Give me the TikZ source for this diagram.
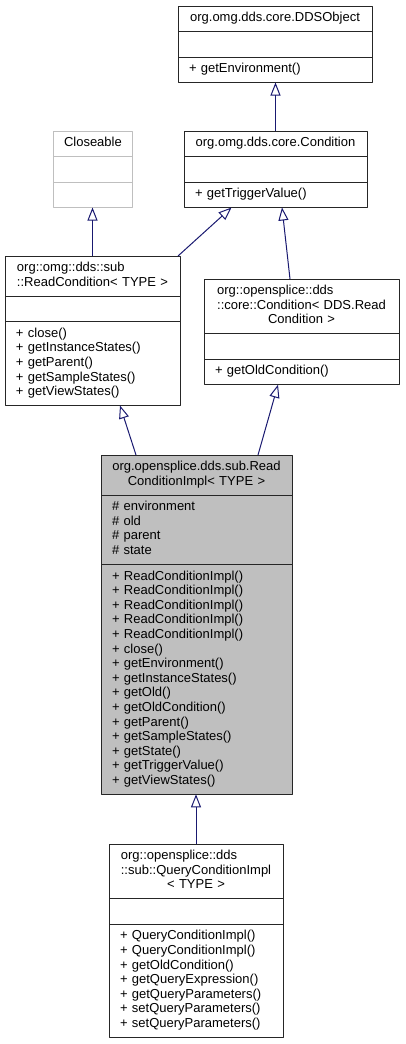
\documentclass[tikz,border=0pt]{standalone}
\usepackage{fontspec}
\setmainfont{Liberation Sans}
\usetikzlibrary{positioning,arrows.meta}
\definecolor{edgeblue}{HTML}{191970}
\definecolor{clsgray}{HTML}{BFBFBF}
\newcommand{\cmp}[1]{\begin{tabular}{@{}l@{}}#1\end{tabular}}
\newcommand{\lastc}[1]{\multicolumn{1}{@{}c@{}}{#1}}

\begin{document}
\begin{tikzpicture}[x=1pt,y=-1pt,line join=round,
  cls/.style={draw=black!85,line width=1pt,fill=white,outer sep=0pt,inner xsep=11pt,inner ysep=5.45pt,
    font=\fontsize{13}{14.6}\selectfont,minimum height=25.5pt},
  ttl/.style={cls,align=center,text width=#1},
  mem/.style={cls,align=left,text width=#1},
  cur/.style={fill=clsgray},
  ext/.style={draw=clsgray},
  inh/.style={draw=edgeblue,line width=1pt,-{Triangle[open,length=13pt,width=10pt]}}]
\useasboundingbox (0,0) rectangle (405,1044);

% DDSObject
\node[ttl=172pt,anchor=north] (ddsT) at (275,6) {\cmp{org.omg.dds.core.DDSObject}};
\node[mem=172pt,below=0pt of ddsT] (ddsA) {};
\node[mem=172pt,below=0pt of ddsA] (ddsM) {\cmp{+ getEnvironment()}};

% Closeable
\node[ttl=57pt,ext,anchor=north] (closT) at (92.5,131) {\cmp{Closeable}};
\node[mem=57pt,ext,below=0pt of closT] (closA) {};
\node[mem=57pt,ext,below=0pt of closA] (closM) {};

% Condition
\node[ttl=161pt,anchor=north] (condT) at (275.5,131) {\cmp{org.omg.dds.core.Condition}};
\node[mem=161pt,below=0pt of condT] (condA) {};
\node[mem=161pt,below=0pt of condA] (condM) {\cmp{+ getTriggerValue()}};

% ReadCondition
\node[ttl=153pt,anchor=north] (rcT) at (92.5,256) {\cmp{org::omg::dds::sub\\\lastc{::ReadCondition< TYPE >}}};
\node[mem=153pt,below=0pt of rcT] (rcA) {};
\node[mem=153pt,below=0pt of rcA] (rcM) {\cmp{+ close()\\+ getInstanceStates()\\+ getParent()\\+ getSampleStates()\\+ getViewStates()}};

% opensplice Condition
\node[ttl=173pt,anchor=north] (osT) at (301.5,279) {\cmp{org::opensplice::dds\\::core::Condition< DDS.Read\\\lastc{Condition >}}};
\node[mem=173pt,below=0pt of osT] (osA) {};
\node[mem=173pt,below=0pt of osA] (osM) {\cmp{+ getOldCondition()}};

% ReadConditionImpl
\node[ttl=169pt,cur,anchor=north] (implT) at (196.5,455) {\cmp{org.opensplice.dds.sub.Read\\\lastc{ConditionImpl< TYPE >}}};
\node[mem=169pt,cur,below=0pt of implT] (implA) {\cmp{\# environment\\\# old\\\# parent\\\# state}};
\node[mem=169pt,cur,below=0pt of implA] (implM) {\cmp{+ ReadConditionImpl()\\+ ReadConditionImpl()\\+ ReadConditionImpl()\\+ ReadConditionImpl()\\+ ReadConditionImpl()\\+ close()\\+ getEnvironment()\\+ getInstanceStates()\\+ getOld()\\+ getOldCondition()\\+ getParent()\\+ getSampleStates()\\+ getState()\\+ getTriggerValue()\\+ getViewStates()}};

% QueryConditionImpl
\node[ttl=152pt,anchor=north] (qT) at (196,844) {\cmp{org::opensplice::dds\\::sub::QueryConditionImpl\\\lastc{< TYPE >}}};
\node[mem=152pt,below=0pt of qT] (qA) {};
\node[mem=152pt,below=0pt of qA] (qM) {\cmp{+ QueryConditionImpl()\\+ QueryConditionImpl()\\+ getOldCondition()\\+ getQueryExpression()\\+ getQueryParameters()\\+ setQueryParameters()\\+ setQueryParameters()}};

% inheritance
\draw[inh] (condT.north) -- (condT.north |- ddsM.south);
\draw[inh] (rcT.north) -- (rcT.north |- closM.south);
\draw[inh] ([xshift=-2pt]rcT.north east) -- ([xshift=-44pt]condM.south);
\draw[inh] ([xshift=-11.5pt]osT.north) -- ([xshift=6.5pt]condM.south);
\draw[inh] ([xshift=-60.5pt]implT.north) -- ([xshift=27.5pt]rcM.south);
\draw[inh] ([xshift=61.5pt]implT.north) -- ([xshift=-23.5pt]osM.south);
\draw[inh] (qT.north) -- (qT.north |- implM.south);
\end{tikzpicture}
\end{document}
